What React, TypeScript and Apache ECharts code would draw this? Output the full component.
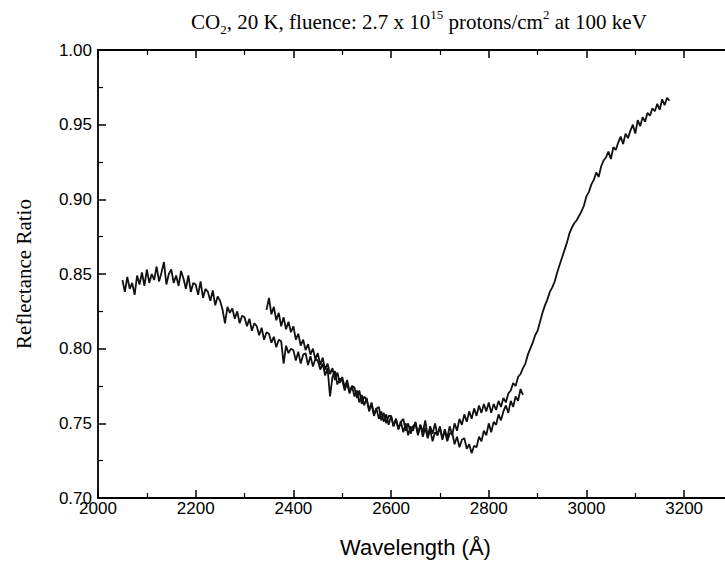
import React, { useEffect, useRef } from "react";
import * as echarts from "echarts";

// Scan 1: 2050–2870 Å, sampled every 5 Å
const scanAStart = 2050;
const scanAStep = 5;
const scanAValues = [
  0.846, 0.838, 0.848, 0.840, 0.844,
  0.836, 0.849, 0.843, 0.851, 0.842,
  0.853, 0.844, 0.850, 0.846, 0.855,
  0.845, 0.851, 0.858, 0.843, 0.850,
  0.853, 0.844, 0.849, 0.842, 0.852,
  0.847, 0.840, 0.849, 0.838, 0.844,
  0.843, 0.836, 0.845, 0.834, 0.840,
  0.838, 0.832, 0.839, 0.829, 0.835,
  0.832, 0.826, 0.817, 0.828, 0.824,
  0.827, 0.820, 0.825, 0.817, 0.822,
  0.821, 0.815, 0.820, 0.812, 0.817,
  0.815, 0.809, 0.814, 0.806, 0.811,
  0.810, 0.804, 0.808, 0.801, 0.806,
  0.805, 0.790, 0.802, 0.797, 0.800,
  0.799, 0.792, 0.798, 0.790, 0.796,
  0.797, 0.789, 0.795, 0.788, 0.793,
  0.792, 0.786, 0.790, 0.782, 0.787,
  0.768, 0.781, 0.785, 0.776, 0.780,
  0.779, 0.772, 0.777, 0.770, 0.775,
  0.774, 0.767, 0.772, 0.763, 0.768,
  0.766, 0.759, 0.764, 0.756, 0.760,
  0.761, 0.752, 0.757, 0.750, 0.755,
  0.755, 0.748, 0.753, 0.746, 0.751,
  0.753, 0.745, 0.750, 0.743, 0.748,
  0.750, 0.742, 0.749, 0.744, 0.752,
  0.741, 0.748, 0.743, 0.750, 0.742,
  0.747, 0.740, 0.745, 0.738, 0.743,
  0.744, 0.736, 0.741, 0.734, 0.739,
  0.740, 0.733, 0.736, 0.730, 0.735,
  0.734, 0.741, 0.738, 0.745, 0.742,
  0.750, 0.744, 0.751, 0.749, 0.756,
  0.752, 0.758, 0.762, 0.757, 0.765,
  0.761, 0.768, 0.765, 0.773, 0.769,
];

// Scan 2: 2345–3170 Å, sampled every 5 Å
const scanBStart = 2345;
const scanBStep = 5;
const scanBValues = [
  0.826, 0.834, 0.823, 0.828, 0.819,
  0.824, 0.815, 0.821, 0.813, 0.818,
  0.811, 0.815, 0.806, 0.810, 0.802,
  0.806, 0.799, 0.803, 0.796, 0.800,
  0.793, 0.797, 0.789, 0.794, 0.786,
  0.790, 0.783, 0.787, 0.779, 0.784,
  0.777, 0.781, 0.774, 0.779, 0.771,
  0.775, 0.768, 0.772, 0.764, 0.769,
  0.762, 0.767, 0.758, 0.763, 0.755,
  0.760, 0.753, 0.758, 0.751, 0.756,
  0.749, 0.755, 0.748, 0.753, 0.746,
  0.751, 0.744, 0.750, 0.742, 0.748,
  0.745, 0.751, 0.743, 0.749, 0.741,
  0.747, 0.740, 0.746, 0.738, 0.744,
  0.742, 0.748, 0.739, 0.746, 0.740,
  0.748, 0.742, 0.750, 0.745, 0.753,
  0.749, 0.756, 0.751, 0.758, 0.753,
  0.760, 0.755, 0.762, 0.757, 0.763,
  0.758, 0.764, 0.757, 0.763, 0.759,
  0.765, 0.761, 0.767, 0.764, 0.770,
  0.772, 0.777, 0.775, 0.781, 0.783,
  0.787, 0.790, 0.796, 0.800, 0.804,
  0.809, 0.812, 0.818, 0.824, 0.829,
  0.833, 0.838, 0.841, 0.845, 0.851,
  0.856, 0.861, 0.866, 0.871, 0.877,
  0.881, 0.884, 0.886, 0.889, 0.892,
  0.896, 0.902, 0.905, 0.910, 0.913,
  0.918, 0.915, 0.922, 0.926, 0.928,
  0.932, 0.927, 0.935, 0.933, 0.938,
  0.942, 0.937, 0.944, 0.941, 0.946,
  0.950, 0.944, 0.953, 0.949, 0.955,
  0.952, 0.958, 0.956, 0.961, 0.959,
  0.964, 0.960, 0.967, 0.963, 0.968,
  0.966,
];

const titleText =
  "{a|CO}{s|2}{a|, 20 K, fluence: 2.7 x 10}{p|15}{a| protons/cm}{p|2}{a| at 100 keV}";
const xAxisTitle = "Wavelength (Å)";
const yAxisTitle = "Reflectance Ratio";

const toPairs = (start: number, step: number, vals: number[]) =>
  vals.map((v, i) => [start + i * step, v]);

export default function App() {
  const ref = useRef<HTMLDivElement>(null);
  useEffect(() => {
    if (!ref.current) return;
    const chart = echarts.init(ref.current, null, { renderer: "svg" });
    const sans = "Liberation Sans, Arial, sans-serif";
    const serif = "Liberation Serif, Times New Roman, serif";
    const axisLine = { show: true, lineStyle: { color: "#000", width: 1.8 } };
    const axisTick = { show: true, inside: true, length: 8, lineStyle: { color: "#000", width: 1.5 } };
    const minorTick = { show: true, splitNumber: 2, length: 5, lineStyle: { color: "#000", width: 1.2 } };
    chart.setOption({
      animation: false,
      backgroundColor: "#fff",
      title: {
        text: titleText,
        left: 186,
        top: 3,
        textStyle: {
          fontWeight: "normal",
          rich: {
            a: { fontFamily: serif, fontSize: 21, fontWeight: "normal", color: "#000", lineHeight: 28 },
            s: { fontFamily: serif, fontSize: 13, fontWeight: "normal", color: "#000", verticalAlign: "bottom", lineHeight: 16 },
            p: { fontFamily: serif, fontSize: 13, fontWeight: "normal", color: "#000", verticalAlign: "top", lineHeight: 16 },
          },
        },
      },
      grid: { left: 98, top: 50, width: 635, height: 448, containLabel: false },
      xAxis: [
        {
          type: "value",
          position: "bottom",
          min: 2000,
          max: 3300,
          interval: 200,
          axisLine,
          axisTick,
          minorTick,
          splitLine: { show: false },
          axisLabel: {
            color: "#000",
            fontFamily: sans,
            fontSize: 17,
            margin: 2,
            showMaxLabel: false,
            formatter: (v: number) => String(v),
          },
          name: xAxisTitle,
          nameLocation: "middle",
          nameGap: 38,
          nameTextStyle: { color: "#000", fontFamily: sans, fontSize: 22 },
        },
        {
          type: "value",
          position: "top",
          min: 2000,
          max: 3300,
          interval: 200,
          axisLine,
          axisTick,
          minorTick,
          splitLine: { show: false },
          axisLabel: { show: false },
        },
      ],
      yAxis: [
        {
          type: "value",
          position: "left",
          min: 0.7,
          max: 1.0,
          interval: 0.05,
          axisLine,
          axisTick,
          minorTick,
          splitLine: { show: false },
          axisLabel: {
            color: "#000",
            fontFamily: sans,
            fontSize: 17,
            margin: 6,
            formatter: (v: number) => v.toFixed(2),
          },
          name: yAxisTitle,
          nameLocation: "middle",
          nameGap: 64,
          nameRotate: 90,
          nameTextStyle: { color: "#000", fontFamily: serif, fontSize: 21 },
        },
        {
          type: "value",
          position: "right",
          min: 0.7,
          max: 1.0,
          interval: 0.05,
          axisLine,
          axisTick,
          minorTick,
          splitLine: { show: false },
          axisLabel: { show: false },
        },
      ],
      series: [
        {
          type: "line",
          data: toPairs(scanAStart, scanAStep, scanAValues),
          showSymbol: false,
          symbol: "none",
          lineStyle: { color: "#111", width: 1.8 },
          xAxisIndex: 0,
          yAxisIndex: 0,
        },
        {
          type: "line",
          data: toPairs(scanBStart, scanBStep, scanBValues),
          showSymbol: false,
          symbol: "none",
          lineStyle: { color: "#111", width: 1.8 },
          xAxisIndex: 0,
          yAxisIndex: 0,
        },
      ],
    });
    return () => chart.dispose();
  }, []);
  return (
    <div
      style={{
        position: "fixed",
        left: 0,
        top: 0,
        width: 725,
        height: 569,
        overflow: "hidden",
        background: "#fff",
      }}
    >
      <div ref={ref} style={{ width: 760, height: 569 }} />
    </div>
  );
}
